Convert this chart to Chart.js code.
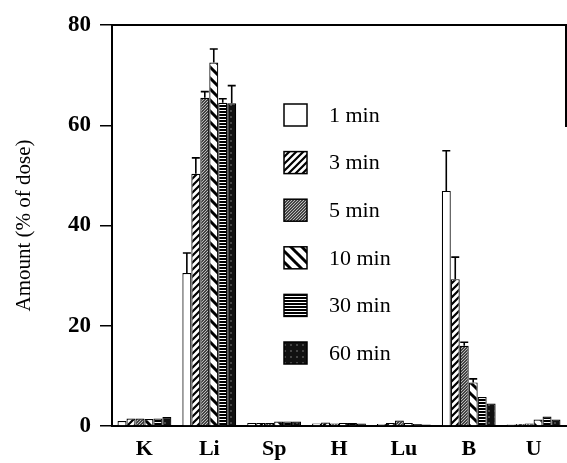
<!DOCTYPE html>
<html>
<head>
<meta charset="utf-8">
<script src="https://cdn.jsdelivr.net/npm/chart.js@4.4.0/dist/chart.umd.min.js"></script>
<style>
  html, body { margin: 0; padding: 0; background: #fff; }
  #wrap { width: 567px; height: 463px; }
</style>
</head>
<body>
<div id="wrap"><canvas id="organChart" width="567" height="463"></canvas></div>
<script>
// 器官分類
const organs = ['K', 'Li', 'Sp', 'H', 'Lu', 'B', 'U'];
const timeLabels = ['1 min', '3 min', '5 min', '10 min', '30 min', '60 min'];
const yTicks = [0, 20, 40, 60, 80];

// 各時間點數值 (% of dose)，順序同 organs
const min1  = [1.0, 30.5, 0.6, 0.5, 0.4, 46.9, 0.3];
const min3  = [1.5, 50.3, 0.6, 0.7, 0.6, 29.3, 0.4];
const min5  = [1.5, 65.5, 0.6, 0.5, 1.1, 16.0, 0.5];
const min10 = [1.4, 72.5, 0.9, 0.6, 0.6, 8.7, 1.3];
const min30 = [1.5, 64.5, 0.9, 0.6, 0.4, 5.8, 1.9];
const min60 = [1.8, 64.4, 0.9, 0.5, 0.3, 4.5, 1.3];

// 誤差 (上方)
const err1  = [0, 4.0, 0, 0, 0, 8.0, 0];
const err3  = [0, 3.2, 0, 0, 0, 4.4, 0];
const err5  = [0, 1.2, 0, 0, 0, 0.7, 0];
const err10 = [0, 2.7, 0, 0, 0, 0.7, 0];
const err30 = [0, 0.8, 0, 0, 0, 0, 0];
const err60 = [0, 3.5, 0, 0, 0, 0, 0];

const FONT = "'Liberation Serif'";
Chart.defaults.font.family = FONT;

// 建立填充花紋
function makePattern(kind) {
    const c = document.createElement('canvas');
    const ctx = c.getContext('2d');
    let s = 8;
    if (kind === 'fwd') s = 7;
    if (kind === 'fine') s = 3;
    if (kind === 'back') s = 11;
    if (kind === 'horiz') s = 3;
    if (kind === 'dark') s = 6;
    c.width = s; c.height = s;
    ctx.fillStyle = '#fff';
    ctx.fillRect(0, 0, s, s);
    ctx.strokeStyle = '#000';
    if (kind === 'fwd') {
        ctx.lineWidth = 2.2;
        ctx.beginPath();
        ctx.moveTo(-1, s + 1); ctx.lineTo(s + 1, -1);
        ctx.moveTo(-1, 1); ctx.lineTo(1, -1);
        ctx.moveTo(s - 1, s + 1); ctx.lineTo(s + 1, s - 1);
        ctx.stroke();
    } else if (kind === 'fine') {
        ctx.fillStyle = '#444';
        ctx.fillRect(0, 0, s, s);
        ctx.fillStyle = '#bbb';
        ctx.fillRect(0, 2, 1, 1);
        ctx.fillRect(1, 1, 1, 1);
        ctx.fillRect(2, 0, 1, 1);
    } else if (kind === 'back') {
        ctx.lineWidth = 3;
        ctx.beginPath();
        ctx.moveTo(-1, -1); ctx.lineTo(s + 1, s + 1);
        ctx.moveTo(s - 1, -1); ctx.lineTo(s + 1, 1);
        ctx.moveTo(-1, s - 1); ctx.lineTo(1, s + 1);
        ctx.stroke();
    } else if (kind === 'horiz') {
        ctx.fillStyle = '#000';
        ctx.fillRect(0, 0, s, 2);
    } else if (kind === 'dark') {
        ctx.fillStyle = '#111';
        ctx.fillRect(0, 0, s, s);
        ctx.fillStyle = '#444';
        ctx.fillRect(2, 2, 2, 2);
    }
    const tmp = document.createElement('canvas').getContext('2d');
    return tmp.createPattern(c, 'repeat');
}

const fills = [
    '#ffffff',
    makePattern('fwd'),
    makePattern('fine'),
    makePattern('back'),
    makePattern('horiz'),
    makePattern('dark')
];

const seriesValues = [min1, min3, min5, min10, min30, min60];
const seriesErrors = [err1, err3, err5, err10, err30, err60];

const datasets = timeLabels.map((lbl, i) => ({
    label: lbl,
    data: seriesValues[i],
    errors: seriesErrors[i],
    backgroundColor: fills[i],
    borderColor: '#000',
    borderWidth: 1.2,
    borderSkipped: 'bottom',
    barPercentage: 1.0,
    categoryPercentage: 0.83
}));

// 誤差線
const errorBarPlugin = {
    id: 'errorBars',
    afterDatasetsDraw(chart) {
        const ctx = chart.ctx;
        const yScale = chart.scales.y;
        ctx.save();
        ctx.strokeStyle = '#000';
        ctx.lineWidth = 1.6;
        chart.data.datasets.forEach((ds, di) => {
            const meta = chart.getDatasetMeta(di);
            meta.data.forEach((bar, idx) => {
                const e = ds.errors[idx];
                if (!e) return;
                const yTop = yScale.getPixelForValue(ds.data[idx] + e);
                const yVal = yScale.getPixelForValue(ds.data[idx]);
                ctx.beginPath();
                ctx.moveTo(bar.x, yVal);
                ctx.lineTo(bar.x, yTop);
                ctx.moveTo(bar.x - 4, yTop);
                ctx.lineTo(bar.x + 4, yTop);
                ctx.stroke();
            });
        });
        ctx.restore();
    }
};

// 外框 + 圖例
const framePlugin = {
    id: 'frameLegend',
    afterDraw(chart) {
        const ctx = chart.ctx;
        const a = chart.chartArea;
        ctx.save();
        ctx.strokeStyle = '#000';
        ctx.lineWidth = 2;
        ctx.beginPath();
        ctx.moveTo(a.left, a.top);
        ctx.lineTo(a.right, a.top);
        ctx.lineTo(a.right, a.top + 102);
        ctx.stroke();

        // 圖例
        const boxX = a.left + 172;
        const firstY = a.top + 90;
        const step = 47.6;
        ctx.font = '22px ' + FONT;
        ctx.textBaseline = 'middle';
        ctx.textAlign = 'left';
        chart.data.datasets.forEach((ds, i) => {
            const cy = firstY + i * step;
            ctx.fillStyle = ds.backgroundColor;
            ctx.fillRect(boxX, cy - 11, 23, 22);
            ctx.lineWidth = 1.5;
            ctx.strokeRect(boxX, cy - 11, 23, 22);
            ctx.fillStyle = '#000';
            ctx.fillText(ds.label, boxX + 45, cy + 1);
        });
        ctx.restore();
    }
};

new Chart(document.getElementById('organChart'), {
    type: 'bar',
    data: { labels: organs, datasets: datasets },
    options: {
        responsive: false,
        animation: false,
        layout: { padding: { top: 25, right: 1, left: 0, bottom: 0 } },
        plugins: {
            legend: { display: false },
            tooltip: { enabled: false }
        },
        scales: {
            x: {
                grid: { display: false, drawTicks: false },
                border: { display: true, color: '#000', width: 2 },
                ticks: {
                    color: '#000',
                    padding: 10,
                    font: { family: FONT, size: 22, weight: 'bold' }
                },
                afterFit(scale) { scale.height = 37; }
            },
            y: {
                min: 0,
                max: 80,
                afterBuildTicks(scale) {
                    scale.ticks = yTicks.map(v => ({ value: v }));
                },
                grid: {
                    drawOnChartArea: false,
                    drawTicks: true,
                    tickLength: 12,
                    color: '#000',
                    lineWidth: 1.5
                },
                border: { display: true, color: '#000', width: 2 },
                ticks: {
                    color: '#000',
                    padding: 9,
                    font: { family: FONT, size: 23, weight: 'bold' }
                },
                title: {
                    display: true,
                    text: 'Amount (% of dose)',
                    color: '#000',
                    padding: { top: 12, bottom: 0 },
                    font: { family: FONT, size: 21 }
                },
                afterFit(scale) { scale.width = 112; }
            }
        }
    },
    plugins: [errorBarPlugin, framePlugin]
});
</script>
</body>
</html>
